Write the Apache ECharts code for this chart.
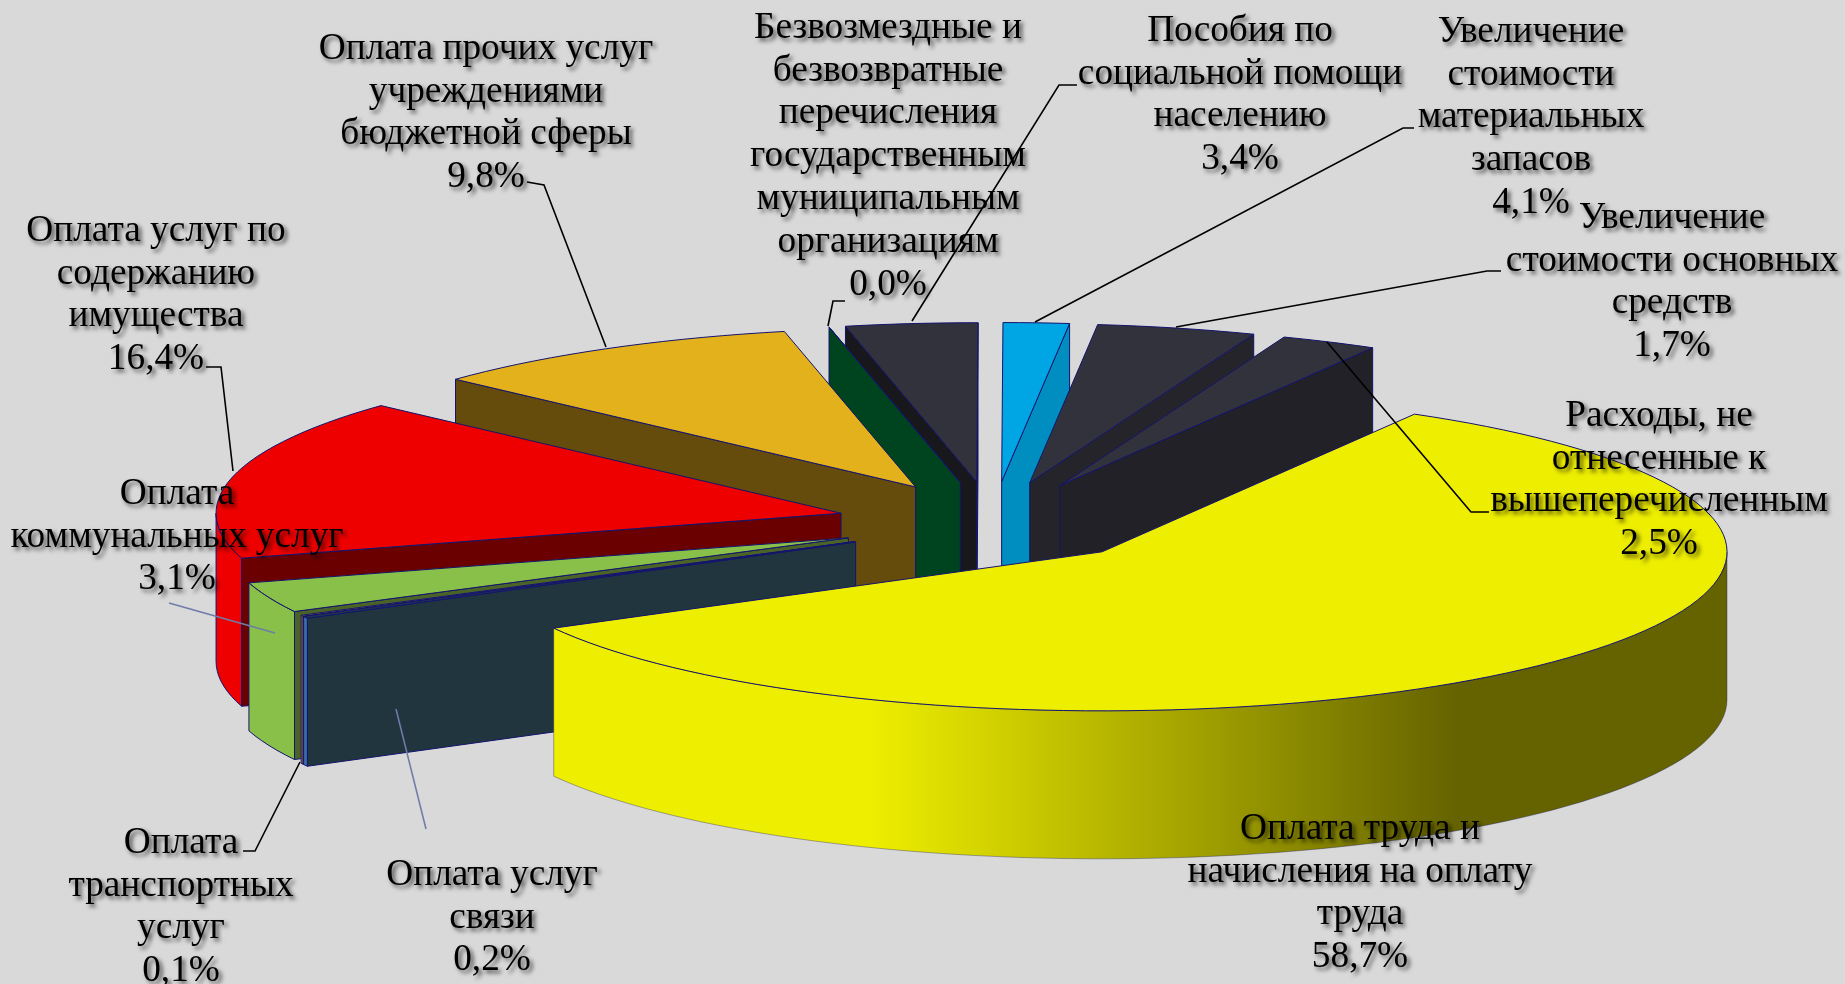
<!DOCTYPE html>
<html>
<head>
<meta charset="utf-8">
<style>
  html, body { margin: 0; padding: 0; background: #d9d9d9; }
  #chart { width: 1845px; height: 984px; }
</style>
<script src="https://cdn.jsdelivr.net/npm/echarts@6/dist/echarts.min.js"></script>
</head>
<body>
<div id="chart"></div>
<script>
// === data, clockwise from the first slice ===
const categories = [
    ['Оплата труда и', 'начисления на оплату', 'труда'],
    ['Оплата услуг', 'связи'],
    ['Оплата', 'транспортных', 'услуг'],
    ['Оплата', 'коммунальных услуг'],
    ['Оплата услуг по', 'содержанию', 'имущества'],
    ['Оплата прочих услуг', 'учреждениями', 'бюджетной сферы'],
    ['Безвозмездные и', 'безвозвратные', 'перечисления', 'государственным', 'муниципальным', 'организациям'],
    ['Пособия по', 'социальной помощи', 'населению'],
    ['Увеличение', 'стоимости основных', 'средств'],
    ['Увеличение', 'стоимости', 'материальных', 'запасов'],
    ['Расходы, не', 'отнесенные к', 'вышеперечисленным']
];
const values = [58.7, 0.2, 0.1, 3.1, 16.4, 9.8, 0.0, 3.4, 1.7, 4.1, 2.5];

// === styles ===
const topColors  = ['#eeee00', '#1d3a4a', '#c9812a', '#88c04a', '#ee0000', '#e3b11c', '#00441f', '#32323c', '#00a5e3', '#32323c', '#32323c'];
const cutColors  = ['#656300', '#20353e', '#c9812a', '#4a6428', '#6b0000', '#654c0c', '#00441f', '#18181c', '#008dc0', '#24242a', '#212127'];
const wallColors = [null, '#3a6ea5', '#c9812a', '#88c04a', '#ee0000', '#e3b11c', '#00441f', '#32323c', '#00a5e3', '#32323c', '#32323c'];
const edgeColor = '#14146e';

// === layout, full size pixels ===
const pie = { cx: 993, cy: 522.5, a: 625, b: 159, h: 148, shiftX: 156, shiftY: 41, startAngle: 30 };
const labelFont = '37.3px "Liberation Serif"';
const labelLine = 42.8;
const labelPos = [
    [1360, 829], [492, 875], [181, 843], [177, 494], [156, 231], [486, 49],
    [888, 28], [1240, 31], [1672, 218], [1531, 32], [1659, 416]
];
const leaders = [
    { color: '#000', pts: [[243, 851], [255, 851], [300, 762]] },
    { color: '#000', pts: [[206, 367], [221, 367], [233, 471]] },
    { color: '#000', pts: [[527, 182], [544, 185], [606, 347]] },
    { color: '#000', pts: [[828, 326], [833, 301], [845, 301]] },
    { color: '#000', pts: [[912, 321], [1059, 85], [1077, 85]] },
    { color: '#000', pts: [[1035, 322], [1403, 128], [1414, 128]] },
    { color: '#000', pts: [[1176, 327], [1487, 271], [1501, 271]] },
    { color: '#000', pts: [[1327, 342], [1471, 512], [1489, 512]] },
    { color: '#6f7ca8', pts: [[169, 603], [275, 633]] },
    { color: '#6f7ca8', pts: [[396, 709], [426, 829]] }
];

const rad = d => d * Math.PI / 180;
const total = values.reduce((s, v) => s + v, 0);

// start and end angle of every slice, in degrees from the top
let acc = pie.startAngle;
const spans = values.map(v => {
    const s = acc;
    acc += v / total * 360;
    return [s, acc];
});
// far slices are painted first
const paintRank = values.map((v, i) => i)
    .sort((p, q) => Math.cos(rad((spans[q][0] + spans[q][1]) / 2)) - Math.cos(rad((spans[p][0] + spans[p][1]) / 2)));

function pointOf(apex, ang, drop) {
    return [apex[0] + pie.a * Math.sin(rad(ang)), apex[1] - pie.b * Math.cos(rad(ang)) + drop];
}

function arcPts(apex, from, to, drop) {
    let pts = [];
    const n = Math.max(1, Math.ceil((to - from) / 2));
    for (let i = 0; i <= n; i++) pts.push(pointOf(apex, from + (to - from) * i / n, drop));
    return pts;
}

function poly(points, fill, z2, stroke) {
    return {
        type: 'polygon',
        z2: z2,
        shape: { points: points },
        style: { fill: fill, stroke: stroke || edgeColor, lineWidth: 1, lineJoin: 'round' }
    };
}

function renderSlice(params) {
    const i = params.dataIndex;
    const [s, e] = spans[i];
    const mid = (s + e) / 2;
    const apex = [pie.cx + pie.shiftX * Math.sin(rad(mid)), pie.cy - pie.shiftY * Math.cos(rad(mid))];
    const apexLow = [apex[0], apex[1] + pie.h];
    const z = paintRank.indexOf(i) * 10;
    let children = [];

    // cut faces turned towards the viewer
    [s, e].forEach((ang, k) => {
        const sn = Math.sin(rad(ang));
        if ((k === 0 && sn < -1e-6) || (k === 1 && sn > 1e-6)) {
            children.push(poly([apex, pointOf(apex, ang, 0), pointOf(apex, ang, pie.h), apexLow], cutColors[i], z));
        }
    });

    // outer wall, only the near half of the rim shows
    const wFrom = Math.max(s, 90), wTo = Math.min(e, 270);
    if (wTo > wFrom) {
        const wall = arcPts(apex, wFrom, wTo, 0).concat(arcPts(apex, wFrom, wTo, pie.h).reverse());
        if (wallColors[i]) {
            children.push(poly(wall, wallColors[i], z + 1));
        } else {
            const shade = new echarts.graphic.LinearGradient(0, 0, 1, 0, [
                { offset: 0, color: '#eeee00' },
                { offset: 0.27, color: '#eeee00' },
                { offset: 0.77, color: '#656300' },
                { offset: 1, color: '#656300' }
            ]);
            children.push(poly(wall, shade, z + 1, 'rgba(20,20,110,0.35)'));
        }
    }

    children.push(poly([apex].concat(arcPts(apex, s, e, 0)), topColors[i], z + 2));
    return { type: 'group', children: children };
}

function renderLabel(params) {
    const i = params.dataIndex;
    const lines = categories[i].concat(values[i].toFixed(1).replace('.', ',') + '%');
    return {
        type: 'group',
        children: lines.map((txt, k) => ({
            type: 'text',
            style: {
                x: labelPos[i][0],
                y: labelPos[i][1] + k * labelLine,
                text: txt,
                font: labelFont,
                fill: '#000',
                align: 'center',
                verticalAlign: 'middle',
                textShadowColor: 'rgba(0,0,0,0.65)',
                textShadowBlur: 4,
                textShadowOffsetX: 3,
                textShadowOffsetY: 3
            }
        }))
    };
}

function renderLeader(params) {
    const l = leaders[params.dataIndex];
    return {
        type: 'polyline',
        shape: { points: l.pts },
        style: { fill: null, stroke: l.color, lineWidth: 1.6 }
    };
}

const chart = echarts.init(document.getElementById('chart'));
chart.setOption({
    backgroundColor: '#d9d9d9',
    animation: false,
    series: [
        { type: 'custom', coordinateSystem: 'none', renderItem: renderSlice, data: values, z: 1, silent: true },
        { type: 'custom', coordinateSystem: 'none', renderItem: renderLeader, data: leaders.map((l, i) => i), z: 2, silent: true },
        { type: 'custom', coordinateSystem: 'none', renderItem: renderLabel, data: values, z: 3, silent: true }
    ]
});
</script>
</body>
</html>
